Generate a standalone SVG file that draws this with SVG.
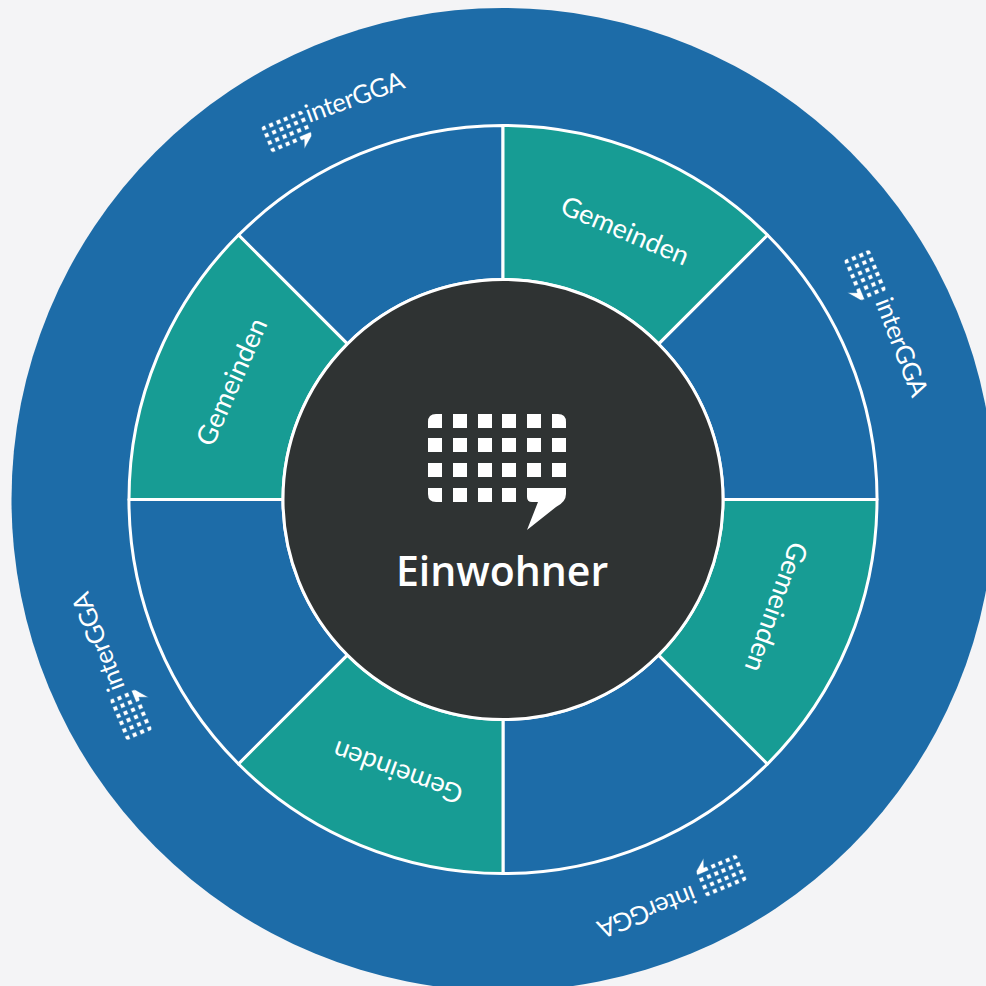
<svg xmlns="http://www.w3.org/2000/svg" xmlns:xlink="http://www.w3.org/1999/xlink" width="986" height="986" viewBox="0 0 986 986">
<style>
.blue{fill:#1d6ca8}
.sector{stroke:#fff;stroke-width:3;stroke-linejoin:round}
.teal{fill:#179c94}
.gem{font:400 27px Lato,"Open Sans","Liberation Sans",sans-serif;fill:#fff;text-anchor:middle}
.igga{font:400 25.5px Lato,"Open Sans","Liberation Sans",sans-serif;letter-spacing:-.4px;fill:#fff}
.title{font:600 41px "Open Sans","Liberation Sans",sans-serif;fill:#fff;text-anchor:middle}
.logo{fill:#fff}
.small{stroke:#1d6ca8;stroke-width:1.5}
</style>
<defs>
<g id="logo">
<path d="M428 428v-6q0-8 8-8h6v14zM552 414h6q8 0 8 8v6h-14zM428 488h14v14h-6q-8 0-8-8z"/>
<path d="M453 414h14v14h-14zM478 414h14v14h-14zM502 414h14v14h-14zM527 414h14v14h-14z"/>
<path d="M428 438h14v14h-14zM453 438h14v14h-14zM478 438h14v14h-14zM502 438h14v14h-14zM527 438h14v14h-14zM552 438h14v14h-14z"/>
<path d="M428 463h14v14h-14zM453 463h14v14h-14zM478 463h14v14h-14zM502 463h14v14h-14zM527 463h14v14h-14zM552 463h14v14h-14z"/>
<path d="M453 488h14v14h-14zM478 488h14v14h-14zM502 488h14v14h-14z"/>
<path d="M527 488h39v6q0 8-10 13l-29 23 11-28h-6q-5 0-5-5z"/>
</g>
<g id="icon">
<use xlink:href="#logo" class="logo small" transform="translate(421.5 63.5) scale(.32) translate(-428 -414)"/>
</g>
<path id="sec" d="M503 125.5A374 374 0 0 1 767.5 235L658.6 343.9A220 220 0 0 0 503 279.5Z"/>
</defs>
<rect id="background" width="986" height="986" fill="#f4f4f6"/>
<g id="outer-ring"><circle class="blue" cx="503" cy="499.5" r="491.5"/></g>
<g id="intergga-1"><use xlink:href="#icon" transform="translate(0 -1) rotate(-22.5 503 499.5)"/><text class="igga" transform="translate(309 123) rotate(-20)">interGGA</text></g>
<g id="intergga-2"><use xlink:href="#icon" transform="translate(-5 -8) rotate(67.5 503 499.5)"/><text class="igga" transform="translate(875 302) rotate(69)">interGGA</text></g>
<g id="intergga-3"><use xlink:href="#icon" transform="translate(2 9) rotate(157.5 503 499.5)"/><text class="igga" transform="translate(692 885) rotate(159)">interGGA</text></g>
<g id="intergga-4"><use xlink:href="#icon" transform="translate(-5 -1) rotate(247.5 503 499.5)"/><text class="igga" transform="translate(125 687) rotate(249)">interGGA</text></g>
<g id="sector-blue-1" transform="rotate(-45 503 499.5)"><use xlink:href="#sec" class="blue sector"/></g>
<g id="sector-blue-2" transform="rotate(45 503 499.5)"><use xlink:href="#sec" class="blue sector"/></g>
<g id="sector-blue-3" transform="rotate(135 503 499.5)"><use xlink:href="#sec" class="blue sector"/></g>
<g id="sector-blue-4" transform="rotate(225 503 499.5)"><use xlink:href="#sec" class="blue sector"/></g>
<g id="gemeinden-1"><use xlink:href="#sec" class="teal sector"/><text class="gem" transform="translate(625 231) rotate(23)" y="9">Gemeinden</text></g>
<g id="gemeinden-2"><use xlink:href="#sec" class="teal sector" transform="rotate(90 503 499.5)"/><text class="gem" transform="translate(776 607) rotate(110)" y="9">Gemeinden</text></g>
<g id="gemeinden-3"><use xlink:href="#sec" class="teal sector" transform="rotate(180 503 499.5)"/><text class="gem" transform="translate(398 772) rotate(200)" y="9">Gemeinden</text></g>
<g id="gemeinden-4"><use xlink:href="#sec" class="teal sector" transform="rotate(270 503 499.5)"/><text class="gem" transform="translate(232 382) rotate(-66)" y="9">Gemeinden</text></g>
<g id="einwohner">
<circle cx="503" cy="499.5" r="220" fill="#2f3333" stroke="#fff" stroke-width="3"/>
<use xlink:href="#logo" class="logo"/>
<text class="title" x="502" y="586">Einwohner</text>
</g>
<g id="connectors"/>
</svg>
